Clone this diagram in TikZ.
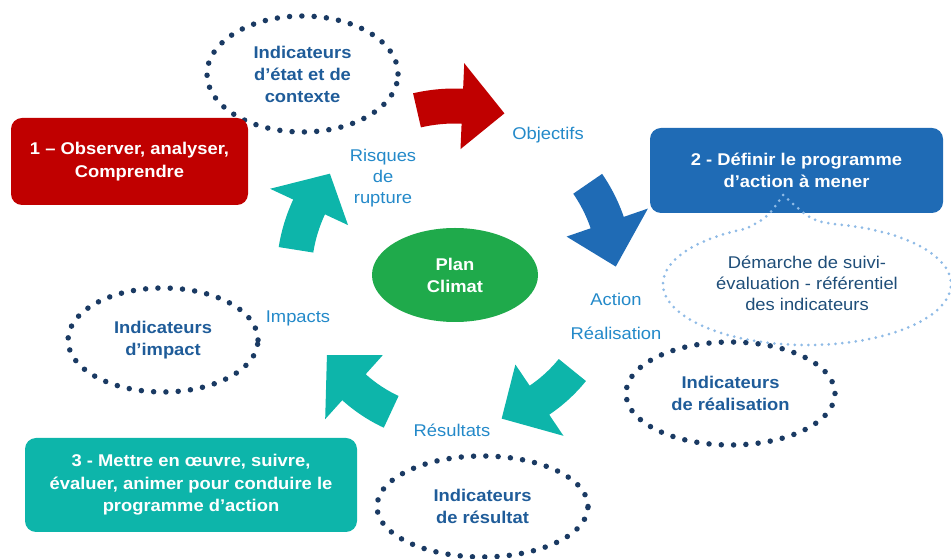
\documentclass[tikz,border=0pt]{standalone}
\usepackage{fontspec}
\setmainfont[FakeStretch=1.08]{Liberation Sans}
\usetikzlibrary{shapes.geometric,calc}

\definecolor{obsred}{HTML}{C00000}
\definecolor{progblue}{HTML}{1F6BB5}
\definecolor{evalteal}{HTML}{0DB5AA}
\definecolor{hubgreen}{HTML}{1FAA4B}
\definecolor{dotnavy}{HTML}{1A3A63}
\definecolor{indblue}{HTML}{1F5C99}
\definecolor{lblblue}{HTML}{2389C9}
\definecolor{notedark}{HTML}{1F4E79}
\definecolor{notedots}{HTML}{8FBBE6}

\tikzset{
  stagebox/.style={rounded corners=11pt, align=center, text=white, inner sep=0pt,
    font=\bfseries\fontsize{17}{22.5}\selectfont},
  indicator/.style={ellipse, draw=dotnavy, line width=5.5pt, line cap=round,
    dash pattern=on 0pt off 12.3pt, text=indblue, align=center, inner sep=0pt,
    font=\bfseries\fontsize{17}{22}\selectfont},
  cyclabel/.style={text=lblblue, align=center, font=\fontsize{17}{21}\selectfont},
  calloutdots/.style={draw=notedots, line width=3pt, line cap=round,
    dash pattern=on 0pt off 6.8pt}
}

% curved block arrow around the hub: colour, tail angle, head angle, tip angle, radius
\newcommand{\cycarrow}[5]{%
  \pgfmathsetmacro\rin{#5-17.5}%
  \pgfmathsetmacro\rout{#5+17.5}%
  \pgfmathsetmacro\hin{#5-43}%
  \pgfmathsetmacro\hout{#5+43}%
  \fill[#1] ($(hub)+(#2:\rin pt)$) arc[start angle=#2, end angle=#3, radius=\rin pt]
    -- ($(hub)+(#3:\hin pt)$) -- ($(hub)+(#4:#5pt)$) -- ($(hub)+(#3:\hout pt)$)
    -- ($(hub)+(#3:\rout pt)$) arc[start angle=#3, end angle=#2, radius=\rout pt] -- cycle;
}

\begin{document}
\begin{tikzpicture}[x=1pt, y=1pt]
  \useasboundingbox (0,0) rectangle (951,559);
  \coordinate (hub) at (455,284);

  % dotted indicator ellipses
  \node[indicator, minimum width=191pt, minimum height=116pt] (context) at (302.5,485)
    {Indicateurs\\d’état et de\\contexte};
  \node[indicator, minimum width=190pt, minimum height=104pt] (impact) at (163,219)
    {Indicateurs\\d’impact};
  \node[indicator, minimum width=209pt, minimum height=103pt] (realis) at (730.5,165.5)
    {Indicateurs\\de réalisation};
  \node[indicator, minimum width=211pt, minimum height=101pt] (result) at (482.5,52.5)
    {Indicateurs\\de résultat};

  % the three stages
  \node[stagebox, fill=obsred, minimum width=237pt, minimum height=87pt] (observe) at (129.5,397.5)
    {1 – Observer, analyser,\\Comprendre};
  \node[stagebox, fill=progblue, minimum width=293pt, minimum height=85pt] (define) at (796.5,388.5)
    {2 - Définir le programme\\d’action à mener};
  \node[stagebox, fill=evalteal, minimum width=332pt, minimum height=94pt] (conduct) at (191,74)
    {3 - Mettre en œuvre, suivre,\\évaluer, animer pour conduire le\\programme d’action};

  % callout under stage 2
  \coordinate (bubble) at (807,275);
  \coordinate (tailtip) at (783,364);
  \draw[calloutdots] (tailtip) .. controls (768,342) .. ($(bubble)+(115:144pt and 61pt)$)
    arc[start angle=115, end angle=438, x radius=144pt, y radius=61pt]
    .. controls (812,338) .. (tailtip);
  \node[text=notedark, align=center, font=\fontsize{17}{21}\selectfont] (method) at (807,276)
    {Démarche de suivi-\\évaluation - référentiel\\des indicateurs};

  % cycle arrows
  \cycarrow{obsred}{103}{87.5}{73}{169}
  \cycarrow{progblue}{34.5}{19}{3}{161}
  \cycarrow{evalteal}{-39}{-56}{-72}{151}
  \cycarrow{evalteal}{-115}{-132}{-148}{151}
  \cycarrow{evalteal}{171}{155}{141}{161}

  % hub
  \node[ellipse, fill=hubgreen, minimum width=166pt, minimum height=94pt, text=white,
    align=center, font=\bfseries\fontsize{17}{22}\selectfont] (plan) at (hub) {Plan\\Climat};

  % labels along the cycle
  \node[cyclabel] (objectifs) at (548,424) {Objectifs};
  \node[cyclabel] (risques) at (383,381) {Risques\\de\\rupture};
  \node[cyclabel] (action) at (616,260) {Action};
  \node[cyclabel] (realisation) at (616,226) {Réalisation};
  \node[cyclabel] (impacts) at (298,241) {Impacts};
  \node[cyclabel] (resultats) at (452,129) {Résultats};
\end{tikzpicture}
\end{document}
